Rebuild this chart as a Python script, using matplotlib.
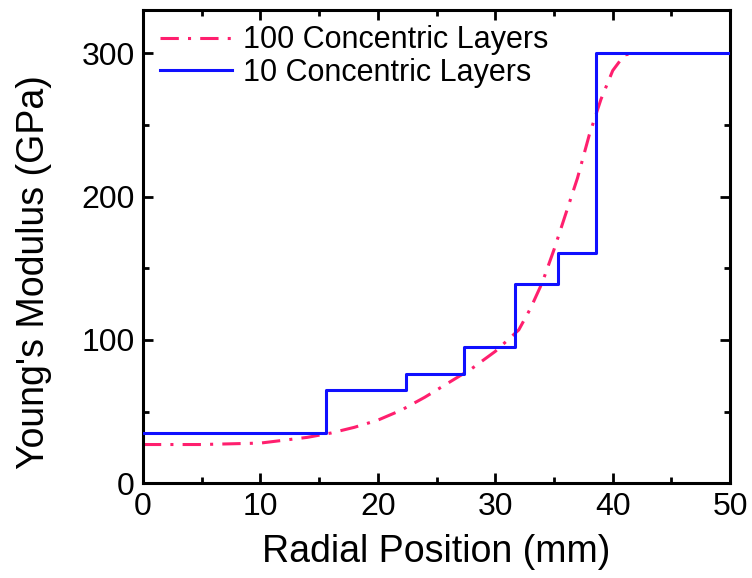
import numpy as np
import matplotlib.pyplot as plt
from matplotlib.ticker import MultipleLocator

plt.rcParams['font.family'] = ['Liberation Sans', 'DejaVu Sans']

# 10 concentric layers (step profile)
x_10 = [0, 15.6, 22.4, 27.3, 31.7, 35.3, 38.6, 50]
y_10 = [35, 65, 76, 95, 139, 161, 300, 300]

# 100 concentric layers (smooth profile)
x_100 = [0, 5, 10, 12, 14, 16, 18, 20, 22, 24, 26, 28, 30, 32, 33, 34,
         35, 36, 37, 38, 39, 40, 41, 42]
y_100 = [27, 27, 28, 30, 32, 35, 39, 44, 51, 60, 70, 80, 92, 107, 122, 140,
         163, 188, 213, 243, 268, 288, 299, 300]

fig = plt.figure(figsize=(7.52, 5.78), dpi=100)
ax = fig.add_axes([0.190, 0.164, 0.781, 0.818])

ax.plot(x_100, y_100, color='#ff1f6e', lw=2.2, linestyle=(0, (6, 3, 1, 3)),
        label='100 Concentric Layers', zorder=2)
ax.step(x_10, y_10, where='post', color='#1010ff', lw=2.2,
        label='10 Concentric Layers', zorder=3)

ax.set_xlim(0, 50)
ax.set_ylim(0, 330)
ax.xaxis.set_major_locator(MultipleLocator(10))
ax.xaxis.set_minor_locator(MultipleLocator(5))
ax.yaxis.set_major_locator(MultipleLocator(100))
ax.yaxis.set_minor_locator(MultipleLocator(50))
ax.tick_params(which='both', direction='in', top=True, right=True,
               width=2, labelsize=23, colors='black')
ax.tick_params(which='major', length=7, pad=6)
ax.tick_params(which='minor', length=4)
for s in ax.spines.values():
    s.set_linewidth(2.2)

ax.set_xlabel('Radial Position (mm)', fontsize=27)
ax.set_ylabel("Young's Modulus (GPa)", fontsize=27)
ax.xaxis.set_label_coords(0.5, -0.108)
ax.yaxis.set_label_coords(-0.155, 0.446)

ax.legend(loc='upper left', frameon=False, fontsize=22, handlelength=2.36,
          handletextpad=0.36, borderaxespad=0, borderpad=0.4,
          labelspacing=0.08, bbox_to_anchor=(0.0085, 0.994))

fig.savefig('out.png', dpi=100)
